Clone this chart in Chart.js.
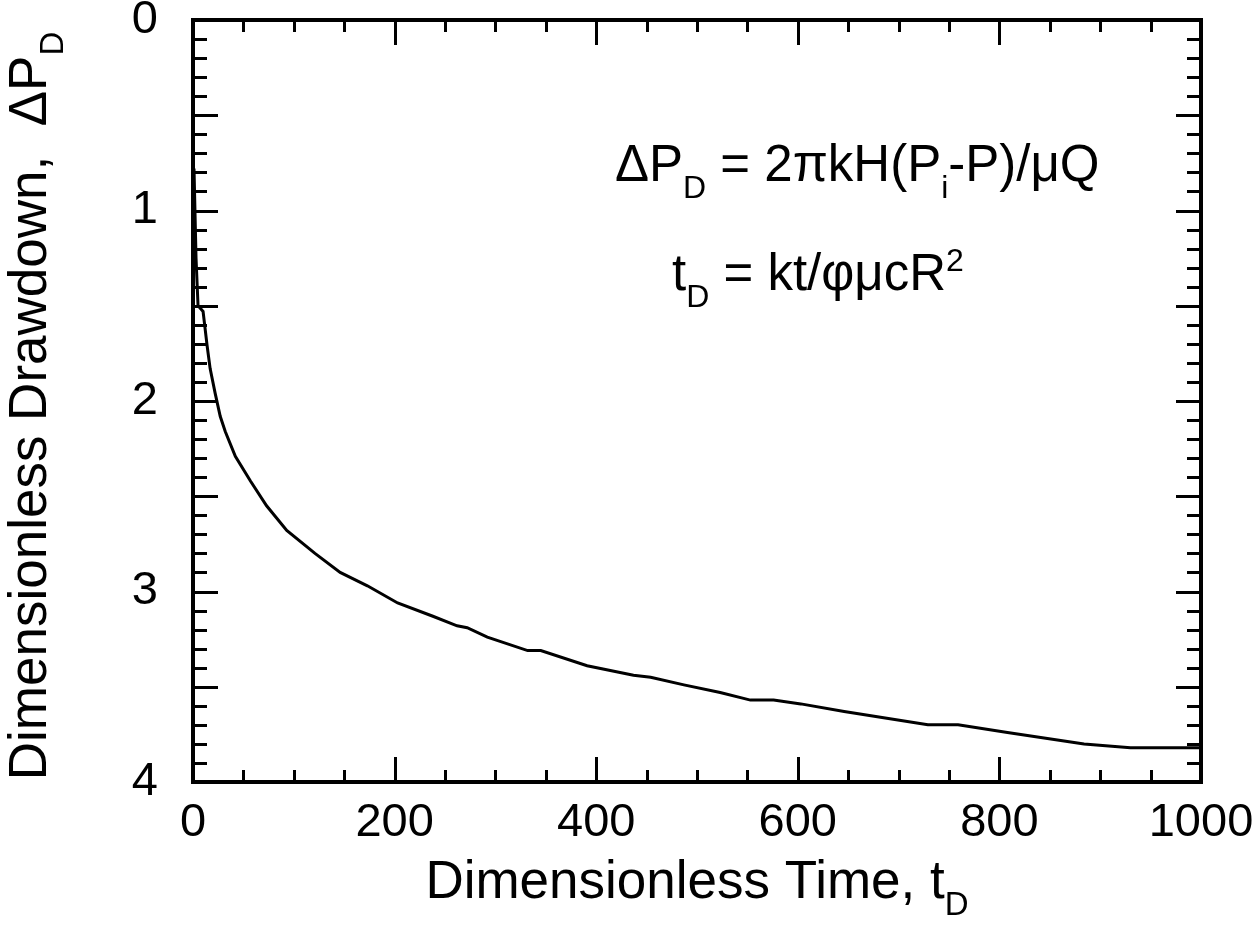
<!DOCTYPE html>
<html>
<head>
<meta charset="utf-8">
<script src="https://cdn.jsdelivr.net/npm/chart.js@4"></script>
<style>
  html, body { margin: 0; padding: 0; background: #fff; }
  #wrap { width: 1254px; height: 943px; position: relative; }
</style>
</head>
<body>
<div id="wrap"><canvas id="chart"></canvas></div>
<script>
// dimensionless time and drawdown
const tD = [1, 3, 5, 10, 14, 17, 22, 27, 32, 42, 57, 73, 93, 121, 146, 173, 203, 238, 262, 272, 292,
    332, 345, 391, 437, 454, 487, 523, 553, 576, 603, 646, 729, 759, 808, 884, 930, 1000];
const dPD = [0.78, 1.25, 1.50, 1.53, 1.71, 1.83, 1.96, 2.08, 2.16, 2.29, 2.42, 2.55, 2.68, 2.80, 2.90, 2.97, 3.06, 3.13, 3.18, 3.19, 3.24,
    3.31, 3.31, 3.39, 3.44, 3.45, 3.49, 3.53, 3.57, 3.57, 3.59, 3.63, 3.70, 3.70, 3.74, 3.80, 3.82, 3.82];

const xTickLabels = [0, 200, 400, 600, 800, 1000];
const yTickLabels = [0, 1, 2, 3, 4];

const FONT = '"Liberation Sans", Arial, sans-serif';

// draws text pieces with sub / superscripts
function drawRich(ctx, x, y, parts, size, align) {
    const subSize = Math.round(size * 0.62);
    let total = 0;
    for (const p of parts) {
        ctx.font = (p.sub || p.sup ? subSize : size) + 'px ' + FONT;
        total += ctx.measureText(p.t).width;
    }
    let cx = align === 'center' ? x - total / 2 : x;
    ctx.textAlign = 'left';
    ctx.textBaseline = 'alphabetic';
    for (const p of parts) {
        let dy = 0;
        if (p.sub) dy = size * 0.33;
        if (p.sup) dy = -size * 0.38;
        ctx.font = (p.sub || p.sup ? subSize : size) + 'px ' + FONT;
        ctx.fillText(p.t, cx, y + dy);
        cx += ctx.measureText(p.t).width;
    }
}

const framePlugin = {
    id: 'frame',
    afterDraw(chart) {
        const ctx = chart.ctx;
        const a = chart.chartArea;
        const xs = chart.scales.x;
        const ys = chart.scales.y;
        ctx.save();
        ctx.strokeStyle = '#000';
        ctx.lineWidth = 3;
        ctx.beginPath();
        // x ticks every 50, long every 200
        for (let v = 50; v < 1000; v += 50) {
            const px = Math.round(xs.getPixelForValue(v)) + 0.5;
            const len = v % 200 === 0 ? 25 : 12;
            ctx.moveTo(px, a.bottom); ctx.lineTo(px, a.bottom - len);
            ctx.moveTo(px, a.top); ctx.lineTo(px, a.top + len);
        }
        // y ticks every 0.1, long every 0.5
        for (let i = 1; i < 40; i++) {
            const py = Math.round(ys.getPixelForValue(i / 10)) + 0.5;
            const len = i % 5 === 0 ? 25 : 14;
            ctx.moveTo(a.left, py); ctx.lineTo(a.left + len, py);
            ctx.moveTo(a.right, py); ctx.lineTo(a.right - len, py);
        }
        ctx.stroke();
        ctx.lineWidth = 4;
        ctx.strokeRect(a.left, a.top, a.right - a.left, a.bottom - a.top);

        ctx.fillStyle = '#000';
        // x axis title
        drawRich(ctx, (a.left + a.right) / 2, 898,
            [{ t: 'Dimensionless Time, t' }, { t: 'D', sub: true }], 53, 'center');
        // y axis title
        ctx.save();
        ctx.translate(46, (a.top + a.bottom) / 2 + 5);
        ctx.rotate(-Math.PI / 2);
        drawRich(ctx, 0, 0,
            [{ t: 'Dimensionless Drawdown,  \u0394P' }, { t: 'D', sub: true }], 53, 'center');
        ctx.restore();
        // formulas
        drawRich(ctx, 615, 181,
            [{ t: '\u0394P' }, { t: 'D', sub: true }, { t: ' = 2\u03c0kH(P' }, { t: 'i', sub: true },
             { t: '-P)/\u03bcQ' }], 51, 'left');
        drawRich(ctx, 672, 290,
            [{ t: 't' }, { t: 'D', sub: true }, { t: ' = kt/\u03c6\u03bccR' }, { t: '2', sup: true }], 51, 'left');
        ctx.restore();
    }
};

new Chart(document.getElementById('chart'), {
    type: 'line',
    data: {
        datasets: [{
            data: tD.map((t, i) => ({ x: t, y: dPD[i] })),
            borderColor: '#000',
            borderWidth: 3,
            pointRadius: 0,
            tension: 0,
            fill: false
        }]
    },
    options: {
        responsive: true,
        maintainAspectRatio: false,
        animation: false,
        layout: { padding: { top: 20, right: 53, left: 0, bottom: 0 } },
        plugins: { legend: { display: false }, tooltip: { enabled: false } },
        scales: {
            x: {
                type: 'linear',
                min: 0,
                max: 1000,
                border: { display: false },
                grid: { display: false },
                afterBuildTicks: s => { s.ticks = xTickLabels.map(v => ({ value: v })); },
                afterFit: s => { s.height = 161; s.paddingLeft = 0; s.paddingRight = 0; },
                ticks: {
                    color: '#000',
                    padding: 10,
                    maxRotation: 0,
                    callback: v => String(v),
                    font: { family: FONT, size: 47, lineHeight: 1 }
                }
            },
            y: {
                type: 'linear',
                min: 0,
                max: 4,
                reverse: true,
                border: { display: false },
                grid: { display: false },
                afterBuildTicks: s => { s.ticks = yTickLabels.map(v => ({ value: v })); },
                afterFit: s => { s.width = 193; s.paddingTop = 0; s.paddingBottom = 0; },
                ticks: {
                    color: '#000',
                    padding: 27,
                    callback: v => String(v),
                    font: { family: FONT, size: 47, lineHeight: 1 }
                }
            }
        }
    },
    plugins: [framePlugin]
});
</script>
</body>
</html>
